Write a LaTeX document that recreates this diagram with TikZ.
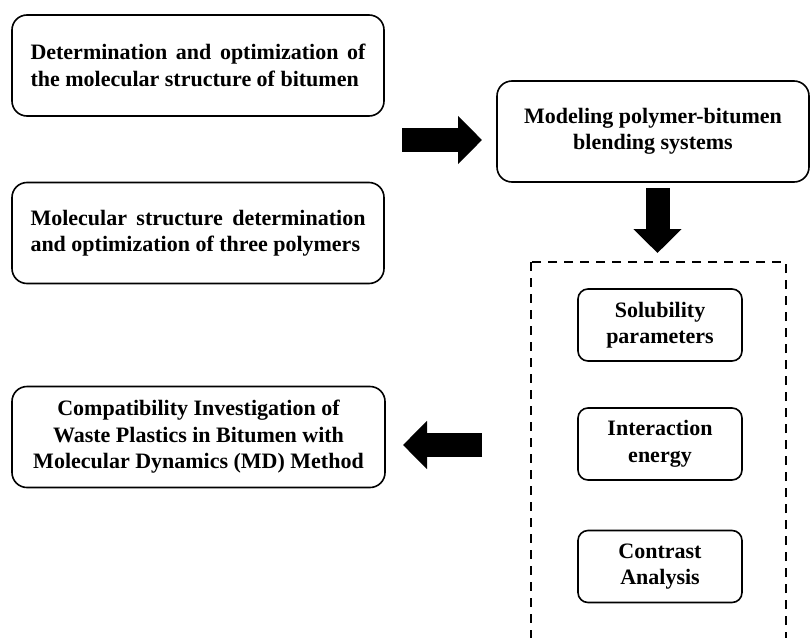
\documentclass[tikz,border=0pt]{standalone}
\usepackage{fontspec}
\setmainfont{Liberation Serif}
\usetikzlibrary{arrows.meta}

\begin{document}
\begin{tikzpicture}[x=1pt, y=-1pt,
  bigbox/.style={draw, line width=1.6pt, rounded corners=15pt, minimum height=101pt,
    font=\fontsize{22}{26.5}\selectfont\bfseries},
  leftbox/.style={bigbox, text width=335pt, align=justify, inner xsep=18.5pt},
  smallbox/.style={draw, line width=1.6pt, rounded corners=10pt, minimum width=164pt,
    minimum height=72pt, align=center, font=\fontsize{22}{26.5}\selectfont\bfseries},
  fatarrow/.style={line width=24pt, -{Triangle[length=24pt, width=47pt]}}]
  \useasboundingbox (0,0) rectangle (810,637);
  \node[leftbox] (bitumen) at (198,65.5) {Determination and optimization of the molecular structure of bitumen\parfillskip=0pt};
  \node[leftbox] (polymers) at (198,233) {Molecular structure determination and optimization of three polymers};
  \node[bigbox, minimum width=312pt, align=center] (blend) at (653,131.5) {Modeling polymer-bitumen\\ blending systems};
  \node[bigbox, minimum width=373pt, align=center] (md) at (198.5,437) {Compatibility Investigation of\\ Waste Plastics in Bitumen with\\ Molecular Dynamics (MD) Method};
  \draw[line width=2.5pt, dash pattern=on 9pt off 7pt] (531,262) rectangle (786,660);
  \node[smallbox] (sol) at (660,325) {Solubility\\ parameters};
  \node[smallbox] (inter) at (660,444) {Interaction\\ energy};
  \node[smallbox] (contrast) at (660,566.5) {Contrast\\ Analysis};
  \coordinate (r0) at (402,140);
  \coordinate (r1) at (482,140);
  \coordinate (d0) at (657.5,188);
  \coordinate (d1) at (657.5,253);
  \coordinate (l0) at (482,445);
  \coordinate (l1) at (403,445);
  \draw[fatarrow] (r0) -- (r1);
  \draw[fatarrow] (d0) -- (d1);
  \draw[fatarrow] (l0) -- (l1);
\end{tikzpicture}
\end{document}
